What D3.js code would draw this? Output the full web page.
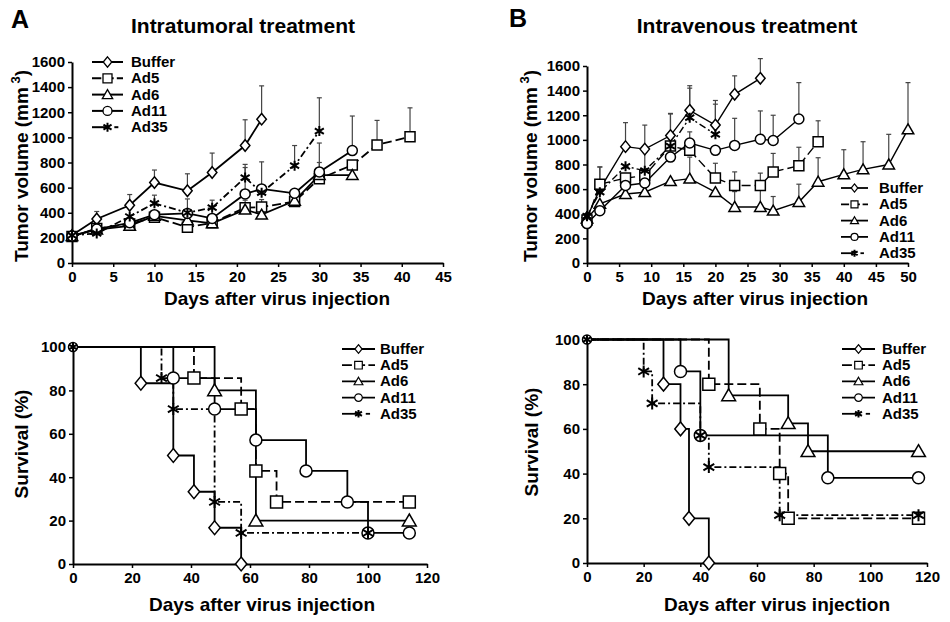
<!DOCTYPE html>
<html><head><meta charset="utf-8">
<script src="https://cdn.jsdelivr.net/npm/d3@7"></script>
<style>
body{margin:0;background:#fff}
svg{display:block}
text{font-family:"Liberation Sans",Arial,Helvetica,sans-serif;font-weight:bold;fill:#000}
</style>
</head><body>
<svg id="chart" width="950" height="622"></svg>
<script>
// ---------- DATA ----------
const seriesNames = ["Buffer", "Ad5", "Ad6", "Ad11", "Ad35"];
const seriesSymbols = ["diamond", "square", "triangle", "circle", "asterisk"];

// Panel A (intratumoral) tumor volume
const tA_Buffer_days = [0, 3, 7, 10, 14, 17, 21, 23];
const tA_Buffer_vol  = [220, 350, 460, 640, 575, 720, 935, 1145];
const tA_Buffer_err  = [null, 410, 545, 740, 710, 875, 1140, 1410];
const tA_Ad5_days = [0, 3, 7, 10, 14, 17, 21, 23, 27, 30, 34, 37, 41];
const tA_Ad5_vol  = [210, 275, 310, 365, 285, 320, 440, 445, 490, 670, 780, 940, 1005];
const tA_Ad5_err  = [null, null, null, null, null, null, 500, 505, null, null, null, 1135, 1235];
const tA_Ad6_days = [0, 3, 7, 10, 14, 17, 21, 23, 27, 30, 34];
const tA_Ad6_vol  = [215, 265, 295, 375, 340, 315, 425, 385, 495, 700, 700];
const tA_Ad6_err  = [null, null, null, null, null, null, null, null, null, 800, null];
const tA_Ad11_days = [0, 3, 7, 10, 14, 17, 21, 23, 27, 30, 34];
const tA_Ad11_vol  = [215, 270, 320, 385, 395, 355, 550, 590, 555, 725, 895];
const tA_Ad11_err  = [null, null, null, null, 510, null, 760, 805, null, 955, 1170];
const tA_Ad35_days = [0, 3, 7, 10, 14, 17, 21, 23, 27, 30];
const tA_Ad35_vol  = [220, 235, 370, 475, 400, 440, 680, 560, 775, 1050];
const tA_Ad35_err  = [null, null, null, 540, null, 500, 785, null, 935, 1315];

// Panel B (intravenous) tumor volume
const tB_Buffer_days = [0, 2, 6, 9, 13, 16, 20, 23, 27];
const tB_Buffer_vol  = [370, 600, 945, 925, 1035, 1240, 1120, 1370, 1500];
const tB_Buffer_err  = [null, null, 1140, 1120, 1215, 1440, 1320, 1520, 1660];
const tB_Ad5_days = [0, 2, 6, 9, 13, 16, 20, 23, 27, 29, 33, 36];
const tB_Ad5_vol  = [350, 640, 690, 710, 950, 915, 690, 630, 630, 740, 790, 985];
const tB_Ad5_err  = [null, 780, null, null, null, null, 810, 740, 730, 890, 940, 1155];
const tB_Ad6_days = [0, 2, 6, 9, 13, 16, 20, 23, 27, 29, 33, 36, 40, 43, 47, 50];
const tB_Ad6_vol  = [360, 480, 560, 575, 665, 685, 575, 455, 455, 425, 495, 660, 720, 760, 800, 1085];
const tB_Ad6_err  = [null, null, null, null, null, 860, null, 580, 590, 540, 640, 855, 920, 985, 1045, 1465];
const tB_Ad11_days = [0, 2, 6, 9, 13, 16, 20, 23, 27, 29, 33];
const tB_Ad11_vol  = [320, 425, 630, 650, 860, 975, 915, 955, 1005, 995, 1170];
const tB_Ad11_err  = [null, null, null, null, null, 1065, null, 1175, 1235, 1200, 1465];
const tB_Ad35_days = [0, 2, 6, 9, 13, 16, 20];
const tB_Ad35_vol  = [380, 575, 785, 750, 950, 1180, 1045];
const tB_Ad35_err  = [null, 780, null, 900, 1210, 1420, 1290];

// Panel A survival (step functions)
const sA_Buffer_t = [0, 23, 34, 41, 48, 57];
const sA_Buffer_s = [100, 83.3, 50, 33.3, 16.7, 0];
const sA_Ad5_t = [0, 41, 57, 62, 69, 114];
const sA_Ad5_s = [100, 85.7, 71.4, 42.9, 28.6, 28.6];
const sA_Ad6_t = [0, 48, 62, 114];
const sA_Ad6_s = [100, 80, 20, 20];
const sA_Ad11_t = [0, 34, 48, 62, 79, 93, 100, 114];
const sA_Ad11_s = [100, 85.7, 71.4, 57.1, 42.9, 28.6, 14.3, 14.3];
const sA_Ad35_t = [0, 30, 34, 48, 57, 100];
const sA_Ad35_s = [100, 85.7, 71.4, 28.6, 14.3, 14.3];

// Panel B survival
const sB_Buffer_t = [0, 27, 33, 36, 43];
const sB_Buffer_s = [100, 80, 60, 20, 0];
const sB_Ad5_t = [0, 43, 61, 68, 71, 117];
const sB_Ad5_s = [100, 80, 60, 40, 20, 20];
const sB_Ad6_t = [0, 50, 71, 78, 117];
const sB_Ad6_s = [100, 75, 62.5, 50, 50];
const sB_Ad11_t = [0, 33, 40, 85, 117];
const sB_Ad11_s = [100, 85.7, 57.1, 38.1, 38.1];
const sB_Ad35_t = [0, 20, 23, 40, 43, 68, 117];
const sB_Ad35_s = [100, 85.7, 71.4, 57.1, 42.9, 21.4, 21.4];

// tick labels
const tumorYTicks = [0, 200, 400, 600, 800, 1000, 1200, 1400, 1600];
const tumorAXTicks = [0, 5, 10, 15, 20, 25, 30, 35, 40, 45];
const tumorBXTicks = [0, 5, 10, 15, 20, 25, 30, 35, 40, 45, 50];
const survYTicks = [0, 20, 40, 60, 80, 100];
const survXTicks = [0, 20, 40, 60, 80, 100, 120];

// ---------- DRAWING ----------
const svg = d3.select("#chart");
const dashes = { Buffer: null, Ad5: "9,4", Ad6: null, Ad11: null, Ad35: "7,3,2,3" };

function symbolPath(type, s) {
  if (type === "diamond") return `M0,${-s*1.15}L${s*0.95},0L0,${s*1.15}L${-s*0.95},0Z`;
  if (type === "square") return `M${-s},${-s}h${2*s}v${2*s}h${-2*s}Z`;
  if (type === "triangle") { const h = s*1.1; return `M0,${-h}L${s*1.15},${h*0.8}L${-s*1.15},${h*0.8}Z`; }
  if (type === "circle") return `M${s},0A${s},${s} 0 1,1 ${-s},0A${s},${s} 0 1,1 ${s},0Z`;
  if (type === "asterisk") {
    const a = s*0.9, b = s*0.55;
    return `M0,${-s}V${s}M${-a},${-b}L${a},${b}M${-a},${b}L${a},${-b}`;
  }
}
function drawSym(g, type, x, y, s, sw) {
  g.append("path").attr("d", symbolPath(type, s))
    .attr("transform", `translate(${x},${y})`)
    .attr("fill", type === "asterisk" ? "none" : "#fff")
    .attr("stroke", "#000").attr("stroke-width", type === "asterisk" ? 2 : sw);
}

function styleAxis(ag) {
  ag.select(".domain").attr("stroke", "#000").attr("stroke-width", 2);
  ag.selectAll(".tick line").attr("stroke", "#000").attr("stroke-width", 1.5);
  ag.selectAll(".tick text").style("font-size", "15px").attr("fill", "#000");
}

function drawAxes(x, y, xT, yT, yTitle, cfg, sup) {
  const fmt = d3.format("d");
  const gx = svg.append("g").attr("transform", `translate(0,${y.range()[0]})`)
    .call(d3.axisBottom(x).tickValues(xT).tickFormat(fmt).tickSize(4).tickSizeOuter(0).tickPadding(4));
  styleAxis(gx);
  const gy = svg.append("g").attr("transform", `translate(${x.range()[0]},0)`)
    .call(d3.axisLeft(y).tickValues(yT).tickFormat(fmt).tickSize(4).tickSizeOuter(0).tickPadding(3));
  styleAxis(gy);
  svg.append("text").attr("x", cfg.xTitleX).attr("y", cfg.xTitleY).attr("text-anchor", "middle")
    .style("font-size", "19px").text("Days after virus injection");
  const t = svg.append("text").attr("transform", `translate(${cfg.yTitleX},${cfg.yTitleY}) rotate(-90)`)
    .attr("text-anchor", "middle").style("font-size", "19px");
  t.append("tspan").text(yTitle);
  if (sup) {
    t.append("tspan").attr("dy", -8).style("font-size", "13px").text(" " + sup);
    t.append("tspan").attr("dy", 8).text(")");
  }
}

function legend(x0, y0, dy, lineLen, textX, s, sw, lw) {
  seriesNames.forEach((n, i) => {
    const y = y0 + i * dy;
    const g = svg.append("g");
    if (n === "Ad35") {
      g.append("line").attr("x1", x0).attr("x2", x0 + lineLen*0.45).attr("y1", y).attr("y2", y)
        .attr("stroke", "#000").attr("stroke-width", lw);
      g.append("line").attr("x1", x0 + lineLen*0.72).attr("x2", x0 + lineLen*0.85).attr("y1", y).attr("y2", y)
        .attr("stroke", "#000").attr("stroke-width", lw);
    } else {
      g.append("line").attr("x1", x0).attr("x2", x0 + lineLen).attr("y1", y).attr("y2", y)
        .attr("stroke", "#000").attr("stroke-width", lw)
        .attr("stroke-dasharray", n === "Ad5" ? `${lineLen*0.3},${lineLen*0.1}` : null);
    }
    drawSym(g, seriesSymbols[i], x0 + lineLen/2, y, s, sw);
    svg.append("text").attr("x", textX).attr("y", y + 5).style("font-size", "15px").text(n);
  });
}

function tumorPanel(cfg) {
  const x = d3.scaleLinear().domain(cfg.xDomain).range(cfg.xRange);
  const y = d3.scaleLinear().domain([0, 1600]).range(cfg.yRange);
  drawAxes(x, y, cfg.xTicks, tumorYTicks, "Tumor volume (mm", cfg, "3");
  const line = d3.line().x(d => x(d[0])).y(d => y(d[1]));
  cfg.series.forEach(sr => {
    const g = svg.append("g");
    sr.days.forEach((d, i) => {
      if (sr.err[i] == null) return;
      g.append("line").attr("x1", x(d)).attr("x2", x(d)).attr("y1", y(sr.vol[i])).attr("y2", y(sr.err[i]))
        .attr("stroke", "#444").attr("stroke-width", 1.2);
      g.append("line").attr("x1", x(d) - 2.5).attr("x2", x(d) + 2.5).attr("y1", y(sr.err[i])).attr("y2", y(sr.err[i]))
        .attr("stroke", "#444").attr("stroke-width", 1.2);
    });
  });
  cfg.series.forEach(sr => {
    svg.append("path").datum(sr.days.map((d, i) => [d, sr.vol[i]])).attr("d", line)
      .attr("fill", "none").attr("stroke", "#000").attr("stroke-width", cfg.lw)
      .attr("stroke-dasharray", dashes[sr.name]);
  });
  cfg.series.forEach(sr => {
    const g = svg.append("g");
    sr.days.forEach((d, i) => drawSym(g, sr.sym, x(d), y(sr.vol[i]), cfg.ms, 1.5));
  });
}

function survPanel(cfg) {
  const x = d3.scaleLinear().domain([0, 120]).range(cfg.xRange);
  const y = d3.scaleLinear().domain([0, 100]).range(cfg.yRange);
  drawAxes(x, y, survXTicks, survYTicks, "Survival (%)", cfg, null);
  const line = d3.line().x(d => x(d[0])).y(d => y(d[1])).curve(d3.curveStepAfter);
  cfg.series.forEach(sr => {
    svg.append("path").datum(sr.t.map((d, i) => [d, sr.s[i]])).attr("d", line)
      .attr("fill", "none").attr("stroke", "#000").attr("stroke-width", 1.8)
      .attr("stroke-dasharray", dashes[sr.name]);
  });
  cfg.series.forEach(sr => {
    const g = svg.append("g");
    sr.t.forEach((d, i) => {
      if (i === 0 && sr.name !== "Ad11" && sr.name !== "Ad35") return;
      drawSym(g, sr.sym, x(d), y(sr.s[i]), i === 0 ? 4.5 : 6, 1.5);
    });
  });
}

const serTA = [
  { name: "Buffer", sym: "diamond", days: tA_Buffer_days, vol: tA_Buffer_vol, err: tA_Buffer_err },
  { name: "Ad5", sym: "square", days: tA_Ad5_days, vol: tA_Ad5_vol, err: tA_Ad5_err },
  { name: "Ad6", sym: "triangle", days: tA_Ad6_days, vol: tA_Ad6_vol, err: tA_Ad6_err },
  { name: "Ad11", sym: "circle", days: tA_Ad11_days, vol: tA_Ad11_vol, err: tA_Ad11_err },
  { name: "Ad35", sym: "asterisk", days: tA_Ad35_days, vol: tA_Ad35_vol, err: tA_Ad35_err }
];
const serTB = [
  { name: "Buffer", sym: "diamond", days: tB_Buffer_days, vol: tB_Buffer_vol, err: tB_Buffer_err },
  { name: "Ad5", sym: "square", days: tB_Ad5_days, vol: tB_Ad5_vol, err: tB_Ad5_err },
  { name: "Ad6", sym: "triangle", days: tB_Ad6_days, vol: tB_Ad6_vol, err: tB_Ad6_err },
  { name: "Ad11", sym: "circle", days: tB_Ad11_days, vol: tB_Ad11_vol, err: tB_Ad11_err },
  { name: "Ad35", sym: "asterisk", days: tB_Ad35_days, vol: tB_Ad35_vol, err: tB_Ad35_err }
];
const serSA = [
  { name: "Buffer", sym: "diamond", t: sA_Buffer_t, s: sA_Buffer_s },
  { name: "Ad5", sym: "square", t: sA_Ad5_t, s: sA_Ad5_s },
  { name: "Ad6", sym: "triangle", t: sA_Ad6_t, s: sA_Ad6_s },
  { name: "Ad11", sym: "circle", t: sA_Ad11_t, s: sA_Ad11_s },
  { name: "Ad35", sym: "asterisk", t: sA_Ad35_t, s: sA_Ad35_s }
];
const serSB = [
  { name: "Buffer", sym: "diamond", t: sB_Buffer_t, s: sB_Buffer_s },
  { name: "Ad5", sym: "square", t: sB_Ad5_t, s: sB_Ad5_s },
  { name: "Ad6", sym: "triangle", t: sB_Ad6_t, s: sB_Ad6_s },
  { name: "Ad11", sym: "circle", t: sB_Ad11_t, s: sB_Ad11_s },
  { name: "Ad35", sym: "asterisk", t: sB_Ad35_t, s: sB_Ad35_s }
];

// Panel letters and titles
svg.append("text").attr("x", 11).attr("y", 28).style("font-size", "25px").text("A");
svg.append("text").attr("x", 509).attr("y", 27).style("font-size", "25px").text("B");
svg.append("text").attr("x", 243).attr("y", 33).attr("text-anchor", "middle").style("font-size", "21px").text("Intratumoral treatment");
svg.append("text").attr("x", 747).attr("y", 33).attr("text-anchor", "middle").style("font-size", "21px").text("Intravenous treatment");

tumorPanel({ xDomain: [0, 45], xRange: [72, 443], yRange: [263, 62], xTicks: tumorAXTicks, series: serTA,
  yTitleX: 28, yTitleY: 166, xTitleX: 277, xTitleY: 305, lw: 1.8, ms: 5 });
legend(92, 62, 16.3, 31, 131, 4.5, 1.3, 2);

tumorPanel({ xDomain: [0, 50], xRange: [587, 908], yRange: [263, 66], xTicks: tumorBXTicks, series: serTB,
  yTitleX: 537, yTitleY: 166, xTitleX: 755, xTitleY: 305, lw: 1.4, ms: 5 });
legend(841, 188, 16.3, 27, 879, 3.5, 1.2, 1.8);

survPanel({ xRange: [73, 427], yRange: [564, 347], series: serSA, yTitleX: 28, yTitleY: 444, xTitleX: 262, xTitleY: 611 });
legend(342, 349, 16.2, 33, 380, 3.8, 1.2, 1.8);

survPanel({ xRange: [587, 927], yRange: [563, 339.5], series: serSB, yTitleX: 538, yTitleY: 442, xTitleX: 777, xTitleY: 611 });
legend(842, 349, 16.2, 33, 882, 3.8, 1.2, 1.8);
</script>
</body></html>
